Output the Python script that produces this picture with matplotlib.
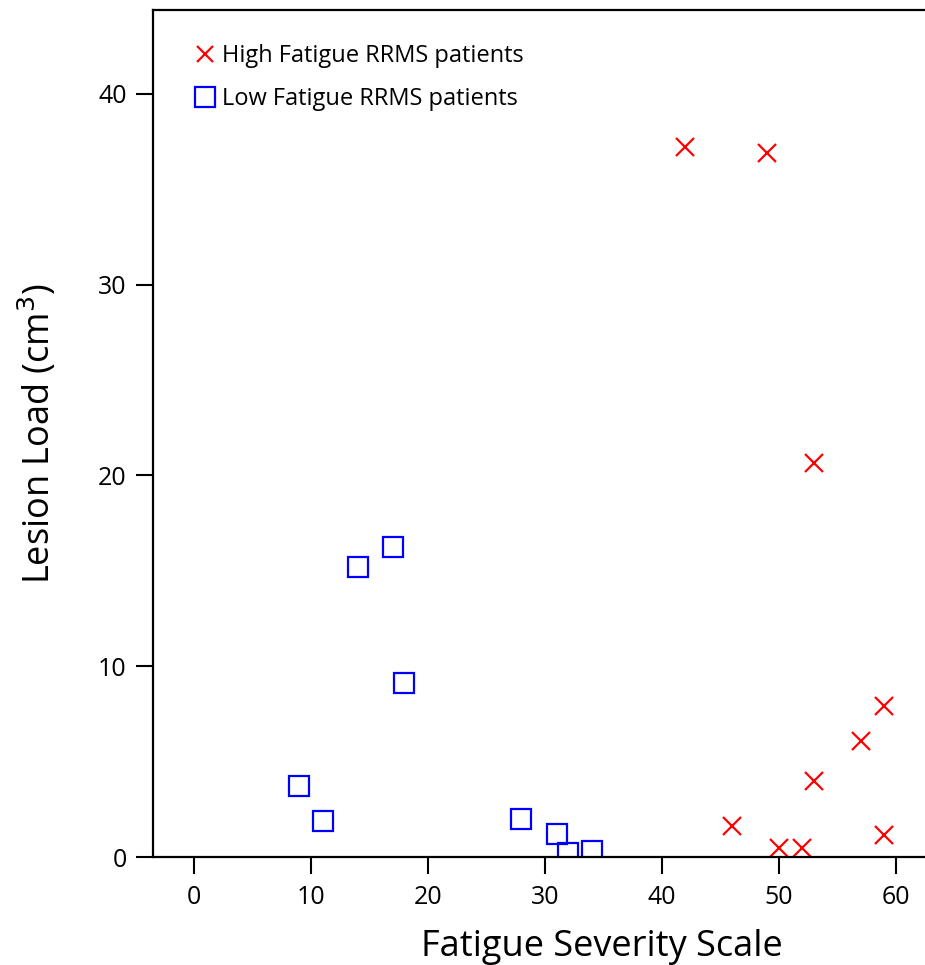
import matplotlib
matplotlib.use('Agg')
import matplotlib.pyplot as plt
from matplotlib.lines import Line2D

# ── Data ─────────────────────────────────────────────────────────────────
high_fss = [42, 49, 53, 59, 57, 53, 46, 50, 52, 59]
high_lesion = [37.2, 36.9, 20.65, 7.9, 6.1, 4.0, 1.6, 0.47, 0.47, 1.15]

low_fss = [17, 14, 18, 9, 11, 28, 31, 32, 34]
low_lesion = [16.25, 15.2, 9.1, 3.7, 1.9, 2.0, 1.2, 0.2, 0.3]

x_ticks = [0, 10, 20, 30, 40, 50, 60]
y_ticks = [0, 10, 20, 30, 40]

plt.rcParams['font.family'] = ['Open Sans', 'DejaVu Sans']

fig = plt.figure(figsize=(9.25, 9.65), dpi=100)
ax = fig.add_axes([0.1654, 0.1119, 0.8346, 0.8777])

ax.plot(high_fss, high_lesion, linestyle='none', marker='x', color='red',
        markersize=13, markeredgewidth=1.6)
ax.plot(low_fss, low_lesion, linestyle='none', marker='s', markerfacecolor='none',
        markeredgecolor='blue', markersize=14, markeredgewidth=1.6)

ax.set_xlim(-3.5, 62.5)
ax.set_ylim(0, 44.4)
ax.set_xticks(x_ticks)
ax.set_yticks(y_ticks)
ax.tick_params(direction='out', length=12, width=1.5, labelsize=18)
ax.tick_params(axis='x', pad=8)
ax.tick_params(axis='y', pad=7)

for side in ['left', 'bottom', 'top']:
    ax.spines[side].set_linewidth(1.6)
ax.spines['right'].set_visible(False)

ax.set_xlabel('Fatigue Severity Scale', fontsize=26)
ax.xaxis.set_label_coords(0.5816, -0.085)
ax.set_ylabel('Lesion Load (cm$^3$)', fontsize=26, labelpad=28)

handles = [
    Line2D([], [], linestyle='none', marker='x', color='red', markersize=12,
           markeredgewidth=1.6),
    Line2D([], [], linestyle='none', marker='s', markerfacecolor='none',
           markeredgecolor='blue', markersize=14, markeredgewidth=1.6),
]
ax.legend(handles, ['High Fatigue RRMS patients', 'Low Fatigue RRMS patients'],
          loc='upper left', bbox_to_anchor=(0.027, 0.985), frameon=False,
          fontsize=17, handlelength=0.8, handletextpad=0.35, labelspacing=0.8)

fig.savefig('out.png', dpi=100)
